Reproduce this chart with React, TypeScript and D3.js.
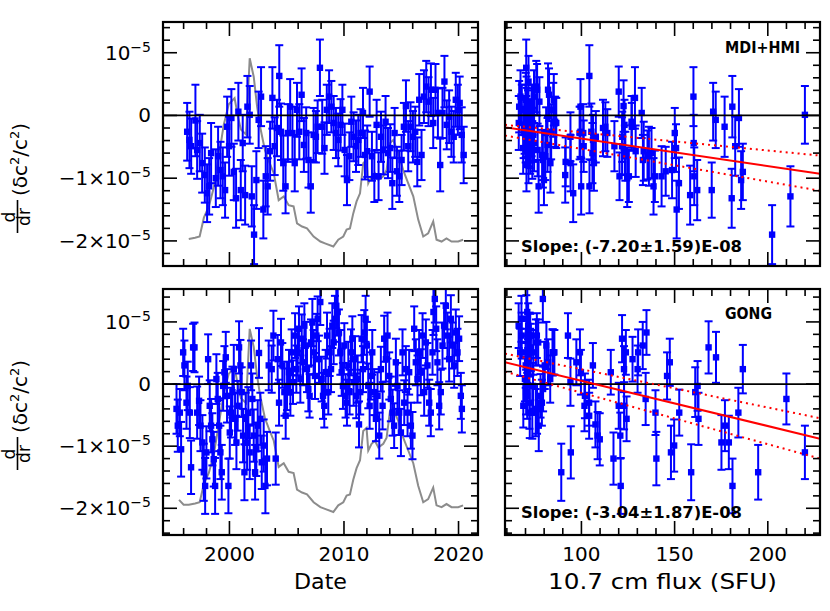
import React from "react";
import * as d3 from "d3";

// ---------------- DATA (values in units of 1e-5) ----------------
const mdiYears = [
  1996.31, 1996.51, 1996.66, 1997.03, 1997.18, 1997.41, 1997.62, 1997.85, 1998.05, 1998.23,
  1998.40, 1998.81, 1999.01, 1999.22, 1999.42, 1999.62, 1999.80, 1999.97, 2000.17, 2000.38,
  2000.58, 2000.78, 2000.99, 2001.16, 2001.37, 2001.57, 2001.77, 2001.95, 2002.15, 2002.35,
  2002.55, 2002.76, 2002.96, 2003.17, 2003.34, 2003.55, 2003.75, 2003.95, 2004.15, 2004.35,
  2004.50, 2004.70, 2004.90, 2005.10, 2005.30, 2005.50, 2005.70, 2005.90, 2006.10, 2006.30,
  2006.50, 2006.70, 2006.90, 2007.10, 2007.35, 2007.55, 2007.70, 2007.90, 2008.10, 2008.30,
  2008.50, 2008.70, 2008.90, 2009.10, 2009.30, 2009.50, 2009.70, 2009.86, 2010.06, 2010.26,
  2010.47, 2010.64, 2010.84, 2011.05, 2011.25, 2011.45, 2011.66, 2011.83, 2012.03, 2012.24,
  2012.44, 2012.65, 2012.85, 2013.02, 2013.23, 2013.43, 2013.63, 2013.84, 2014.04, 2014.22,
  2014.42, 2014.62, 2014.83, 2015.03, 2015.23, 2015.41, 2015.61, 2015.81, 2016.02, 2016.22,
  2016.40, 2016.57, 2016.77, 2016.98, 2017.18, 2017.38, 2017.59, 2017.79, 2017.99, 2018.20,
  2018.40, 2018.60, 2018.77, 2018.97, 2019.18, 2019.38, 2019.58, 2019.76, 2019.94, 2020.10,
  2020.28, 2020.45,
];
const mdiValues = [
  -0.26, -0.39, -0.49, -0.08, -0.55, -0.44, -0.76, -0.95, -1.24, -1.13,
  -0.60, -1.00, -0.65, -0.87, -0.97, -1.19, -0.18, -0.49, -0.04, -0.90,
  -1.32, 0.06, -1.19, -0.44, -1.27, 0.14, 0.01, -1.29, -1.90, -1.03,
  -0.07, 0.30, -1.50, -0.97, -1.13, -0.57, 0.28, -0.49, -0.20, 0.63,
  -0.26, -0.76, -1.13, -0.28, 0.14, -0.28, -0.76, 0.09, -0.26, 0.33,
  -0.47, -0.28, -0.71, -1.13, -0.31, -0.34, -0.18, 0.76, -0.18, -0.52,
  0.09, 0.30, 0.14, -0.12, -0.28, -0.39, -0.15, 0.09, -0.55, -1.03,
  -0.65, -0.10, -0.34, -0.49, -0.39, -0.28, 0.04, -0.63, -0.57, 0.38,
  -0.65, -0.97, -0.15, -0.97, -0.34, -0.55, -0.10, -0.60, -0.52, -1.08,
  -0.28, -0.89, -0.97, -0.71, -0.18, 0.15, -0.49, -0.18, -0.34, -0.26,
  -0.74, 0.25, -0.63, 0.30, 0.46, 0.22, 0.41, -0.12, 0.41, 0.04,
  -0.79, 0.04, 0.54, -0.15, -0.02, -0.26, -0.34, 0.25, 0.09, 0.20,
  -0.31, -0.63,
];
const mdiErrors = [
  0.46, 0.45, 0.44, 0.57, 0.46, 0.45, 0.47, 0.44, 0.46, 0.45,
  0.48, 0.46, 0.47, 0.45, 0.46, 0.44, 0.48, 0.47, 0.46, 0.45,
  0.47, 0.46, 0.48, 0.45, 0.47, 0.49, 0.46, 0.48, 0.47, 0.46,
  0.45, 0.47, 0.46, 0.48, 0.45, 0.47, 0.49, 0.46, 0.45, 0.49,
  0.45, 0.44, 0.43, 0.46, 0.44, 0.42, 0.45, 0.43, 0.44, 0.42,
  0.43, 0.41, 0.44, 0.42, 0.43, 0.41, 0.42, 0.45, 0.43, 0.41,
  0.40, 0.42, 0.41, 0.43, 0.40, 0.42, 0.41, 0.40, 0.42, 0.40,
  0.38, 0.40, 0.39, 0.41, 0.40, 0.38, 0.40, 0.39, 0.41, 0.40,
  0.39, 0.41, 0.40, 0.38, 0.40, 0.39, 0.41, 0.40, 0.38, 0.41,
  0.40, 0.39, 0.41, 0.40, 0.38, 0.41, 0.40, 0.39, 0.41, 0.40,
  0.39, 0.41, 0.40, 0.42, 0.41, 0.39, 0.42, 0.40, 0.41, 0.39,
  0.42, 0.40, 0.41, 0.39, 0.42, 0.40, 0.41, 0.43, 0.40, 0.42,
  0.44, 0.45,
];

const gongYears = [
  1995.38, 1995.49, 1995.67, 1995.78, 1995.96, 1996.07, 1996.25, 1996.36, 1996.54, 1996.65,
  1996.83, 1996.95, 1997.18, 1997.35, 1997.47, 1997.64, 1997.76, 1997.88, 1997.99, 1998.14,
  1998.28, 1998.40, 1998.51, 1998.63, 1998.75, 1998.86, 1998.98, 1999.10, 1999.21, 1999.33,
  1999.45, 1999.56, 1999.68, 1999.79, 1999.91, 2000.03, 2000.14, 2000.26, 2000.38, 2000.49,
  2000.61, 2000.72, 2000.84, 2000.96, 2001.07, 2001.19, 2001.31, 2001.42, 2001.54, 2001.65,
  2001.77, 2001.89, 2002.00, 2002.12, 2002.24, 2002.35, 2002.47, 2002.58, 2002.70, 2002.82,
  2002.99, 2003.14, 2003.28, 2003.43, 2003.69, 2003.84, 2004.04, 2004.21, 2004.33, 2004.50,
  2004.62, 2004.80, 2004.91, 2005.03, 2005.20, 2005.32, 2005.43, 2005.55, 2005.73, 2005.84,
  2005.96, 2006.07, 2006.19, 2006.31, 2006.42, 2006.54, 2006.66, 2006.77, 2006.89, 2007.00,
  2007.12, 2007.24, 2007.35, 2007.47, 2007.59, 2007.70, 2007.82, 2007.93, 2008.05, 2008.17,
  2008.28, 2008.40, 2008.52, 2008.63, 2008.75, 2008.87, 2008.98, 2009.10, 2009.21, 2009.33,
  2009.45, 2009.56, 2009.68, 2009.80, 2009.91, 2010.03, 2010.14, 2010.26, 2010.38, 2010.49,
  2010.61, 2010.73, 2010.84, 2010.96, 2011.07, 2011.19, 2011.31, 2011.42, 2011.54, 2011.66,
  2011.77, 2011.89, 2012.00, 2012.12, 2012.24, 2012.35, 2012.47, 2012.64, 2012.79, 2012.93,
  2013.08, 2013.22, 2013.37, 2013.51, 2013.66, 2013.80, 2013.95, 2014.09, 2014.24, 2014.38,
  2014.53, 2014.67, 2014.82, 2014.97, 2015.11, 2015.26, 2015.40, 2015.55, 2015.69, 2015.84,
  2015.98, 2016.13, 2016.27, 2016.42, 2016.56, 2016.71, 2016.86, 2017.00, 2017.15, 2017.29,
  2017.44, 2017.58, 2017.73, 2017.81, 2017.93, 2018.05, 2018.16, 2018.31, 2018.45, 2018.60,
  2018.74, 2018.89, 2019.03, 2019.18, 2019.33, 2019.47, 2019.62, 2019.76, 2019.91, 2020.05,
  2020.20, 2020.29,
];
const gongValues = [
  -0.40, -0.67, -0.46, -1.05, 0.51, 0.30, -0.30, -0.03, -0.46, -1.34,
  0.59, 0.59, -0.46, -0.27, -0.67, -0.94, -1.42, -1.64, -1.10, 0.40,
  -0.35, -0.67, -0.89, -1.21, -1.64, 0.08, -0.24, -0.67, -1.10, -1.42,
  -0.03, 0.19, 0.43, -0.19, -1.64, -0.78, -0.46, -0.13, 0.24, -0.56,
  -0.94, -0.35, 0.59, 0.30, -0.13, -0.83, -1.42, -0.56, -0.94, -0.46,
  -1.10, 0.30, -0.24, -0.83, -1.42, -1.05, -0.67, 0.50, -0.56, -1.26,
  -0.99, -1.64, -1.20, 0.30, 0.24, 0.78, -1.20, 0.40, -0.30, 0.67,
  0.30, -0.13, -0.51, -0.03, 0.19, -0.13, 0.51, 0.03, 0.78, 0.24,
  0.51, 0.89, 0.08, 0.73, 0.35, 0.94, 0.62, 0.24, -0.08, -0.19,
  0.67, 0.99, 0.51, 0.13, 0.78, 1.05, 0.40, 1.32, 0.08, -0.19,
  -0.35, 0.19, 0.78, -0.13, 0.51, 0.24, 0.94, 0.67, 1.05, 1.26,
  1.16, 0.83, 0.51, 0.19, -0.03, 0.62, -0.19, -0.30, 0.30, -0.13,
  0.51, 0.73, 0.03, 0.40, -0.19, 0.08, -0.65, -0.13, 0.73, 0.24,
  0.83, 1.05, 0.62, -0.03, -0.35, 0.13, 0.51, -0.13, -0.56, -0.19,
  -0.83, 0.24, -0.35, 0.73, 0.40, 0.78, 0.13, -0.24, -0.46, -0.67,
  0.35, -0.03, -0.46, -0.78, 0.51, -0.30, 0.24, -0.46, 0.19, -0.67,
  -0.83, 0.89, 0.35, 0.08, 0.51, 0.19, 0.78, -0.13, 0.67, 0.30,
  -0.30, -0.46, 0.51, 1.16, 1.37, 0.89, 0.35, -0.35, -0.13, 0.62,
  0.94, 1.26, 0.78, 0.40, 1.05, 0.62, 0.30, 0.83, 0.51, 0.73,
  -0.19, -0.40,
];
const gongErrors = [
  0.40, 0.42, 0.38, 0.44, 0.38, 0.40, 0.42, 0.39, 0.41, 0.43,
  0.38, 0.40, 0.42, 0.39, 0.41, 0.44, 0.46, 0.45, 0.42, 0.40,
  0.41, 0.43, 0.42, 0.44, 0.45, 0.40, 0.42, 0.41, 0.43, 0.44,
  0.40, 0.42, 0.41, 0.43, 0.44, 0.42, 0.40, 0.41, 0.39, 0.42,
  0.43, 0.40, 0.42, 0.41, 0.40, 0.43, 0.45, 0.42, 0.44, 0.41,
  0.43, 0.40, 0.41, 0.42, 0.44, 0.43, 0.41, 0.40, 0.42, 0.43,
  0.42, 0.44, 0.43, 0.40, 0.38, 0.40, 0.42, 0.39, 0.37, 0.38,
  0.36, 0.38, 0.37, 0.39, 0.36, 0.38, 0.37, 0.35, 0.36, 0.38,
  0.37, 0.36, 0.38, 0.39, 0.37, 0.36, 0.38, 0.37, 0.36, 0.35,
  0.37, 0.38, 0.36, 0.37, 0.35, 0.36, 0.38, 0.37, 0.36, 0.37,
  0.35, 0.36, 0.37, 0.36, 0.38, 0.37, 0.36, 0.35, 0.37, 0.36,
  0.38, 0.37, 0.36, 0.38, 0.37, 0.36, 0.35, 0.37, 0.38, 0.36,
  0.37, 0.36, 0.38, 0.37, 0.36, 0.38, 0.37, 0.36, 0.38, 0.37,
  0.36, 0.37, 0.38, 0.36, 0.37, 0.38, 0.36, 0.37, 0.36, 0.38,
  0.37, 0.36, 0.38, 0.37, 0.36, 0.37, 0.38, 0.36, 0.37, 0.36,
  0.38, 0.37, 0.36, 0.38, 0.37, 0.36, 0.37, 0.38, 0.36, 0.37,
  0.38, 0.36, 0.37, 0.38, 0.36, 0.37, 0.36, 0.38, 0.37, 0.36,
  0.37, 0.38, 0.36, 0.37, 0.38, 0.36, 0.37, 0.38, 0.36, 0.37,
  0.36, 0.38, 0.37, 0.36, 0.38, 0.37, 0.36, 0.37, 0.38, 0.36,
  0.37, 0.38,
];
// the flux panel shows only the independent (non-overlapping) GONG sets
const gongFluxStride = 2;

// 10.7 cm flux (SFU), the grey activity curve
const fluxYears = [
  1995.6, 1996.0, 1996.45, 1997.0, 1997.4, 1997.77, 1998.2, 1998.63, 1999.07, 1999.5,
  1999.94, 2000.45, 2000.75, 2001.0, 2001.45, 2001.77, 2002.12, 2002.41, 2002.7, 2003.1,
  2003.5, 2003.87, 2004.3, 2004.74, 2005.17, 2005.6, 2005.9, 2006.34, 2006.77, 2007.35,
  2007.94, 2008.34, 2009.07, 2009.5, 2009.94, 2010.23, 2010.52, 2010.81, 2011.1, 2011.4,
  2011.68, 2011.97, 2012.12, 2012.41, 2012.7, 2013.0, 2013.43, 2013.72, 2014.01, 2014.3,
  2014.74, 2015.17, 2015.61, 2016.05, 2016.48, 2016.92, 2017.35, 2017.79, 2018.08, 2018.52,
  2018.95, 2019.39, 2019.97, 2020.4,
];
const fluxValues = [
  76.2, 72.1, 72.1, 73.2, 74.2, 89.6, 98.8, 114.1, 139.7, 165.3,
  182.2, 187.3, 171.9, 161.7, 157.6, 219.9, 204.8, 180.7, 162.8, 144.8,
  134.6, 125.9, 103.9, 107.0, 99.8, 98.8, 84.9, 82.4, 80.8, 74.2,
  70.1, 68.6, 66.0, 71.6, 74.2, 79.8, 80.8, 93.1, 102.9, 109.5,
  134.1, 136.7, 117.7, 123.3, 125.9, 120.3, 123.3, 128.5, 150.5, 153.0,
  142.3, 128.5, 117.7, 107.0, 88.0, 74.2, 76.8, 86.5, 71.6, 70.1,
  72.7, 70.1, 70.1, 71.6,
];

// linear fits vs flux: [value at left flux, value at right flux]
const fitFlux = [59, 228];
const mdiFit = [-0.19, -0.93];
const mdiFitUpper = [-0.15, -0.64];
const mdiFitLower = [-0.32, -1.2];
const gongFit = [0.35, -0.88];
const gongFitUpper = [0.49, -0.55];
const gongFitLower = [0.2, -1.2];

const dateTicks = d3.range(1996, 2021, 2);
const dateMajor = [2000, 2010, 2020];
const fluxTicks = d3.range(60, 221, 10);
const fluxMajor = [100, 150, 200];
const yTicks = d3.range(-24, 15, 2).map((v) => v / 10);
const yMajor = [-2, -1, 0, 1];
const yLabels = [
  { v: 1, main: "10", sup: "−5" },
  { v: 0, main: "0", sup: "" },
  { v: -1, main: "−1×10", sup: "−5" },
  { v: -2, main: "−2×10", sup: "−5" },
];

// ---------------- SCALES ----------------
const xDate = d3.scaleLinear().domain([1994.2, 2021.7]).range([163, 478]);
const xFlux = d3.scaleLinear().domain([59, 228]).range([505, 820]);
const yTop = d3.scaleLinear().domain([-2.4, 1.49]).range([266, 22]);
const yBot = d3.scaleLinear().domain([-2.43, 1.53]).range([535, 289]);
const fluxAt = d3.scaleLinear().domain(fluxYears).range(fluxValues).clamp(true);
const grayTop = d3.scaleLinear().domain([66, 220]).range([-2.09, 0.915]);
const grayBot = d3.scaleLinear().domain([66, 220]).range([-2.06, 0.89]);

type P = { x: number; y: number; e: number };
const BLUE = "#0000ff";
const FONT = "DejaVu Sans, sans-serif";

function makePts(years: number[], vals: number[], errs: number[], useFlux: boolean, stride = 1): P[] {
  const n = Math.min(years.length, vals.length, errs.length);
  const out: P[] = [];
  for (let i = 0; i < n; i += stride) {
    out.push({ x: useFlux ? fluxAt(years[i]) : years[i], y: vals[i], e: errs[i] });
  }
  return out;
}

function Panel(props: {
  id: string;
  xs: d3.ScaleLinear<number, number>;
  ys: d3.ScaleLinear<number, number>;
  pts: P[];
  gray?: [number, number][];
  grayScale?: d3.ScaleLinear<number, number>;
  fits?: number[][];
  xt: number[];
  xm: number[];
}) {
  const { id, xs, ys, pts, gray, grayScale, fits, xt, xm } = props;
  const [x0, x1] = xs.range();
  const [y1, y0] = ys.range();
  const line = d3
    .line<[number, number]>()
    .x((d) => xs(d[0]))
    .y((d) => ys(grayScale ? grayScale(d[1]) : d[1]));
  const fitLine = (vals: number[]) =>
    d3
      .line<number>()
      .x((_, i) => xs(fitFlux[i]))
      .y((d) => ys(d))(vals) || "";
  const cap = 4;
  const sq = 6.4;
  return (
    <g>
      <defs>
        <clipPath id={id}>
          <rect x={x0} y={y0} width={x1 - x0} height={y1 - y0} />
        </clipPath>
      </defs>
      <g clipPath={`url(#${id})`}>
        {gray && (
          <path d={line(gray) || ""} fill="none" stroke="#8c8c8c" strokeWidth={2} />
        )}
        {pts.map((p, i) => {
          const cx = xs(p.x);
          const ya = ys(p.y + p.e);
          const yb = ys(p.y - p.e);
          return (
            <g key={i} stroke={BLUE} strokeWidth={2}>
              <line x1={cx} x2={cx} y1={ya} y2={yb} />
              <line x1={cx - cap} x2={cx + cap} y1={ya} y2={ya} />
              <line x1={cx - cap} x2={cx + cap} y1={yb} y2={yb} />
              <rect x={cx - sq / 2} y={ys(p.y) - sq / 2} width={sq} height={sq} fill={BLUE} stroke="none" />
            </g>
          );
        })}
        <line x1={x0} x2={x1} y1={ys(0)} y2={ys(0)} stroke="#000" strokeWidth={1.8} />
        {fits && (
          <g fill="none" stroke="#ff0000" strokeWidth={2}>
            <path d={fitLine(fits[0])} />
            <path d={fitLine(fits[1])} strokeDasharray="2 4" />
            <path d={fitLine(fits[2])} strokeDasharray="2 4" />
          </g>
        )}
      </g>
      <g stroke="#000" strokeWidth={1.6}>
        {yTicks.map((v) => {
          const L = yMajor.includes(v) ? 14 : 7;
          const yy = ys(v);
          return (
            <g key={"y" + v}>
              <line x1={x0} x2={x0 + L} y1={yy} y2={yy} />
              <line x1={x1} x2={x1 - L} y1={yy} y2={yy} />
            </g>
          );
        })}
        {xt.map((v) => {
          const L = xm.includes(v) ? 14 : 7;
          const xx = xs(v);
          return (
            <g key={"x" + v}>
              <line x1={xx} x2={xx} y1={y1} y2={y1 - L} />
              <line x1={xx} x2={xx} y1={y0} y2={y0 + L} />
            </g>
          );
        })}
      </g>
      <rect x={x0} y={y0} width={x1 - x0} height={y1 - y0} fill="none" stroke="#000" strokeWidth={2.2} />
    </g>
  );
}

function YLabels({ ys }: { ys: d3.ScaleLinear<number, number> }) {
  return (
    <g fontFamily={FONT} fontSize={20} fill="#000">
      {yLabels.map((l) => (
        <text key={l.v} x={151} y={ys(l.v) + 7} textAnchor="end">
          {l.main}
          {l.sup && (
            <tspan fontSize={14} dy={-8}>
              {l.sup}
            </tspan>
          )}
        </text>
      ))}
    </g>
  );
}

function YTitle({ bottomY }: { bottomY: number }) {
  // bottomY: screen y where the rotated label starts (its lower end)
  return (
    <g transform="rotate(-90)" fontFamily={FONT} fill="#000">
      <text x={-(bottomY - 16)} y={15} fontSize={17} textAnchor="middle">
        d
      </text>
      <line x1={-bottomY} x2={-(bottomY - 33)} y1={17.5} y2={17.5} stroke="#000" strokeWidth={1.6} />
      <text x={-(bottomY - 16)} y={30} fontSize={17} textAnchor="middle">
        dr
      </text>
      <text x={-(bottomY - 37)} y={27} fontSize={20}>
        (δc
        <tspan fontSize={13} dy={-8}>2</tspan>
        <tspan dy={8}>/c</tspan>
        <tspan fontSize={13} dy={-8}>2</tspan>
        <tspan dy={8}>)</tspan>
      </text>
    </g>
  );
}

export default function App() {
  const mdiDate = makePts(mdiYears, mdiValues, mdiErrors, false);
  const mdiFluxPts = makePts(mdiYears, mdiValues, mdiErrors, true);
  const gongDate = makePts(gongYears, gongValues, gongErrors, false);
  const gongFluxPts = makePts(gongYears, gongValues, gongErrors, true, gongFluxStride);
  const grayAll: [number, number][] = fluxYears.map((y, i) => [y, fluxValues[i]]);
  const grayTopPts = grayAll.filter((d) => d[0] >= 1996.4);

  return (
    <svg
      width={830}
      height={611}
      viewBox="0 0 830 611"
      style={{ position: "absolute", left: 0, top: 0, background: "#fff" }}
    >
      <rect width={830} height={611} fill="#fff" />
      <Panel id="c1" xs={xDate} ys={yTop} pts={mdiDate} gray={grayTopPts} grayScale={grayTop} xt={dateTicks} xm={dateMajor} />
      <Panel
        id="c2"
        xs={xFlux}
        ys={yTop}
        pts={mdiFluxPts}
        fits={[mdiFit, mdiFitUpper, mdiFitLower]}
        xt={fluxTicks}
        xm={fluxMajor}
      />
      <Panel id="c3" xs={xDate} ys={yBot} pts={gongDate} gray={grayAll} grayScale={grayBot} xt={dateTicks} xm={dateMajor} />
      <Panel
        id="c4"
        xs={xFlux}
        ys={yBot}
        pts={gongFluxPts}
        fits={[gongFit, gongFitUpper, gongFitLower]}
        xt={fluxTicks}
        xm={fluxMajor}
      />

      <YLabels ys={yTop} />
      <YLabels ys={yBot} />
      <YTitle bottomY={233} />
      <YTitle bottomY={470} />

      <g fontFamily={FONT} fontSize={20} fill="#000" textAnchor="middle">
        {dateMajor.map((d) => (
          <text key={d} x={xDate(d)} y={561}>
            {d}
          </text>
        ))}
        {fluxMajor.map((d) => (
          <text key={d} x={xFlux(d)} y={561}>
            {d}
          </text>
        ))}
        <text x={320.5} y={589} fontSize={21} textLength={53} lengthAdjust="spacingAndGlyphs">
          Date
        </text>
        <text x={662.5} y={589} fontSize={21} textLength={229} lengthAdjust="spacingAndGlyphs">
          10.7 cm flux (SFU)
        </text>
      </g>

      <g fontFamily={FONT} fontWeight="bold" fill="#000">
        <text x={725} y={53} fontSize={15} textLength={75} lengthAdjust="spacingAndGlyphs">
          MDI+HMI
        </text>
        <text x={725} y={319} fontSize={15} textLength={47} lengthAdjust="spacingAndGlyphs">
          GONG
        </text>
        <text x={521} y={252} fontSize={15} textLength={221} lengthAdjust="spacingAndGlyphs">
          Slope: (-7.20±1.59)E-08
        </text>
        <text x={521} y={518} fontSize={15} textLength={221} lengthAdjust="spacingAndGlyphs">
          Slope: (-3.04±1.87)E-08
        </text>
      </g>
    </svg>
  );
}
